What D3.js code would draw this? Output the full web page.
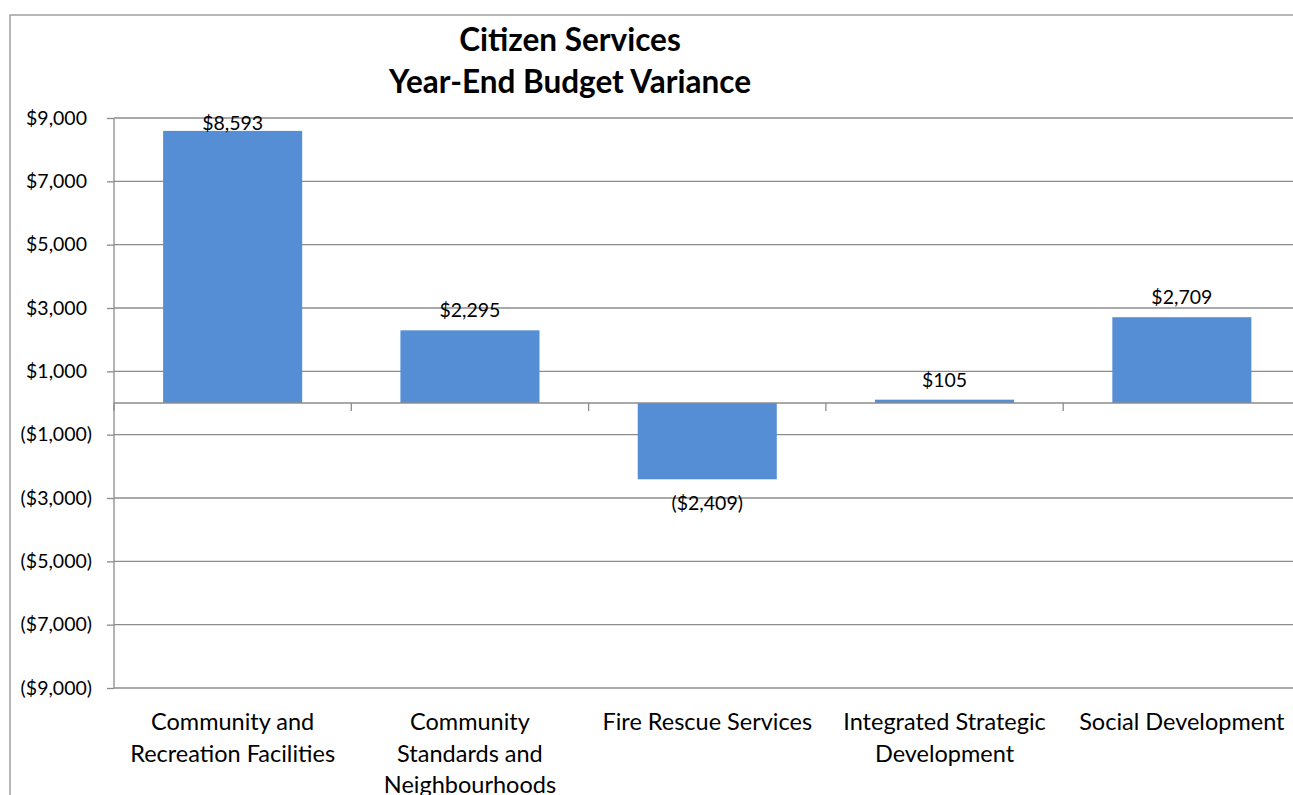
<!DOCTYPE html>
<html>
<head>
<meta charset="utf-8">
<script src="https://cdn.jsdelivr.net/npm/d3@7"></script>
<style>
  body { margin: 0; background: #fff; }
  svg text { font-family: Lato, "Open Sans", sans-serif; fill: #000; }
  .grid line { stroke: #8c8c8c; stroke-width: 1.3; }
  .axis path, .axis line { stroke: #8c8c8c; stroke-width: 1.3; }
  .bar { fill: #558ed5; }
</style>
</head>
<body>
<div class="chart"></div>
<script>
// chart data
var categories = ["Community and Recreation Facilities",
                  "Community Standards and Neighbourhoods",
                  "Fire Rescue Services",
                  "Integrated Strategic Development",
                  "Social Development"];
var categoryLines = [["Community and", "Recreation Facilities"],
                     ["Community", "Standards and", "Neighbourhoods"],
                     ["Fire Rescue Services"],
                     ["Integrated Strategic", "Development"],
                     ["Social Development"]];
var variance = [8593, 2295, -2409, 105, 2709];
var yTicks = [9000, 7000, 5000, 3000, 1000, -1000, -3000, -5000, -7000, -9000];
var titleLines = ["Citizen Services", "Year-End Budget Variance"];

var width = 1293, height = 795,
    margin = { top: 118, left: 114, bottom: 107 },
    plotW = 1186.5,
    plotH = height - margin.top - margin.bottom;

var comma = d3.format(",");
function money(v) {
  return v < 0 ? "($" + comma(-v) + ")" : "$" + comma(v);
}

var data = categories.map(function(c, i) {
  return { name: c, lines: categoryLines[i], value: variance[i] };
});

var svg = d3.select(".chart").append("svg")
    .attr("width", width)
    .attr("height", height);

// outer chart frame (runs past the right and bottom edges)
svg.append("rect")
  .attr("x", 10).attr("y", 15)
  .attr("width", width + 20).attr("height", height + 20)
  .attr("fill", "none")
  .attr("stroke", "#a0a0a0")
  .attr("stroke-width", 1.5);

var yScale = d3.scaleLinear()
    .domain([-9000, 9000])
    .range([plotH, 0]);
var xScale = d3.scaleBand()
    .domain(categories)
    .range([0, plotW])
    .paddingInner(0.414)
    .paddingOuter(0.207);

var g = svg.append("g")
    .attr("transform", "translate(" + margin.left + "," + margin.top + ")");

// horizontal gridlines
g.append("g")
  .attr("class", "grid")
  .selectAll("line")
  .data(yTicks)
  .enter().append("line")
    .attr("x1", 0)
    .attr("x2", plotW)
    .attr("y1", function(d) { return yScale(d); })
    .attr("y2", function(d) { return yScale(d); });

// y axis
var yAxis = d3.axisLeft(yScale)
    .tickValues(yTicks)
    .tickSize(7)
    .tickPadding(20)
    .tickFormat(money);
var yG = g.append("g")
  .attr("class", "axis y")
  .call(yAxis);
yG.select(".domain").attr("d", "M0," + yScale(9000) + "V" + yScale(-9000));
yG.selectAll("text")
  .style("font-size", "19.5px")
  .attr("x", function(d) { return d < 0 ? -22 : -27; });

// bars
g.selectAll(".bar")
  .data(data)
  .enter().append("rect")
    .attr("class", "bar")
    .attr("x", function(d) { return xScale(d.name); })
    .attr("width", xScale.bandwidth())
    .attr("y", function(d) { return yScale(Math.max(0, d.value)); })
    .attr("height", function(d) { return Math.abs(yScale(d.value) - yScale(0)); });

// zero axis with category boundary ticks
var zeroG = g.append("g")
  .attr("class", "axis x")
  .attr("transform", "translate(0," + yScale(0) + ")");
zeroG.append("line")
  .attr("x1", 0).attr("x2", plotW);
zeroG.selectAll(".boundary")
  .data(d3.range(categories.length + 1))
  .enter().append("line")
    .attr("class", "boundary")
    .attr("x1", function(i) { return i * xScale.step(); })
    .attr("x2", function(i) { return i * xScale.step(); })
    .attr("y1", 0)
    .attr("y2", 8);

// value labels, kept inside the plot area like the original
g.selectAll(".value")
  .data(data)
  .enter().append("text")
    .attr("class", "value")
    .attr("text-anchor", "middle")
    .style("font-size", "19.5px")
    .attr("x", function(d) { return xScale(d.name) + xScale.bandwidth() / 2; })
    .attr("y", function(d) {
      if (d.value < 0) return yScale(d.value) + 31;
      return Math.max(yScale(d.value) - 13, 12);
    })
    .text(function(d) { return money(d.value); });

// category labels
var catG = g.selectAll(".category")
  .data(data)
  .enter().append("text")
    .attr("class", "category")
    .attr("text-anchor", "middle")
    .style("font-size", "23.5px")
    .attr("transform", function(d) {
      return "translate(" + (xScale(d.name) + xScale.bandwidth() / 2) + "," + (plotH + 42) + ")";
    });
catG.selectAll("tspan")
  .data(function(d) { return d.lines; })
  .enter().append("tspan")
    .attr("x", 0)
    .attr("y", function(d, i) { return i * 31.7; })
    .text(function(d) { return d; });

// title
svg.append("text")
  .attr("text-anchor", "middle")
  .style("font-size", "31.5px")
  .style("font-weight", "bold")
  .selectAll("tspan")
  .data(titleLines)
  .enter().append("tspan")
    .attr("x", 570)
    .attr("y", function(d, i) { return 51 + i * 41.5; })
    .text(function(d) { return d; });
</script>
</body>
</html>
